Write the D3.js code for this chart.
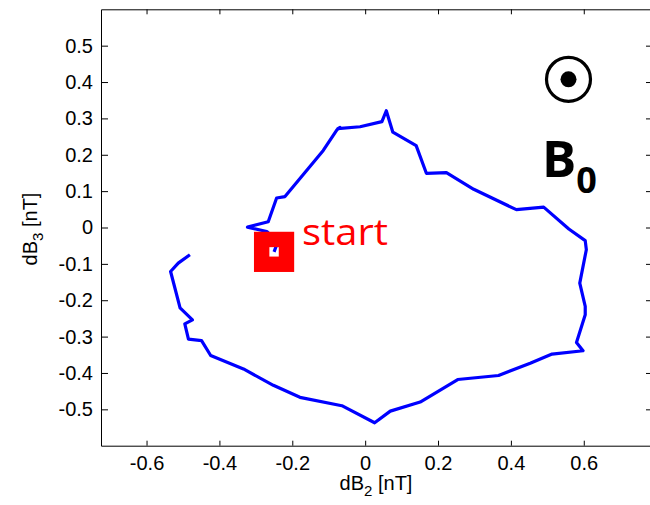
<!DOCTYPE html>
<html>
<head>
<meta charset="utf-8">
<script src="https://cdn.jsdelivr.net/npm/d3@7"></script>
<style>
    body { margin: 0; background: #fff; }
    svg { display: block; font-family: "Liberation Sans", Arial, sans-serif; }
</style>
</head>
<body>
<div id="chart"></div>
<script>
// hodogram values (nT)
const dB2 = [-0.250, -0.240, -0.270, -0.323, -0.266, -0.243, -0.220, -0.115, -0.078, -0.069, -0.075,
    -0.014, 0.046, 0.058, 0.076, 0.140, 0.168, 0.223, 0.298, 0.415, 0.490, 0.559, 0.604, 0.607,
    0.589, 0.604, 0.604, 0.580, 0.598, 0.513, 0.453, 0.366, 0.254, 0.151, 0.069, 0.026, -0.064,
    -0.179, -0.252, -0.334, -0.424, -0.449, -0.485, -0.495, -0.474, -0.508, -0.534, -0.513, -0.481];
const dB3 = [-0.067, -0.040, -0.011, 0.001, 0.016, 0.081, 0.085, 0.212, 0.268, 0.275, 0.272,
    0.277, 0.291, 0.321, 0.262, 0.225, 0.149, 0.151, 0.105, 0.049, 0.056, -0.004, -0.036, -0.061,
    -0.153, -0.217, -0.240, -0.316, -0.339, -0.348, -0.373, -0.407, -0.418, -0.480, -0.505, -0.537, -0.490,
    -0.467, -0.434, -0.389, -0.352, -0.311, -0.307, -0.265, -0.254, -0.221, -0.121, -0.098, -0.075];

const xTicks = [-0.6, -0.4, -0.2, 0, 0.2, 0.4, 0.6];
const yTicks = [-0.5, -0.4, -0.3, -0.2, -0.1, 0, 0.1, 0.2, 0.3, 0.4, 0.5];
const xDomain = [-0.725, 0.79];
const yDomain = [-0.6, 0.6];

const width = 650, height = 505;
const box = { left: 101, right: 653, top: 9.3, bottom: 445.7 };

const svg = d3.select("#chart").append("svg")
    .attr("width", width)
    .attr("height", height);

const x = d3.scaleLinear().domain(xDomain).range([box.left, box.right]);
const y = d3.scaleLinear().domain(yDomain).range([box.bottom, box.top]);

const fmt = d => d === 0 ? "0" : String(d);

// axes, ticks pointing inward like the original
svg.append("g")
    .attr("transform", `translate(0,${box.bottom})`)
    .call(d3.axisBottom(x).tickValues(xTicks).tickFormat(fmt).tickSizeInner(-5).tickSizeOuter(0).tickPadding(10));
svg.append("g")
    .attr("transform", `translate(0,${box.top})`)
    .call(d3.axisTop(x).tickValues(xTicks).tickFormat("").tickSizeInner(-5).tickSizeOuter(0));
svg.append("g")
    .attr("transform", `translate(${box.left},0)`)
    .call(d3.axisLeft(y).tickValues(yTicks).tickFormat(fmt).tickSizeInner(-7).tickSizeOuter(0).tickPadding(8));
svg.append("g")
    .attr("transform", `translate(${box.right},0)`)
    .call(d3.axisRight(y).tickValues(yTicks).tickFormat("").tickSizeInner(-7).tickSizeOuter(0));

svg.selectAll(".tick text")
    .attr("fill", "#000")
    .style("font-size", "20px");
svg.selectAll(".domain, .tick line").attr("stroke", "#000");

// axis labels
const xl = svg.append("text")
    .attr("x", 376)
    .attr("y", 490)
    .attr("text-anchor", "middle")
    .style("font-size", "20px");
xl.append("tspan").text("dB");
xl.append("tspan").attr("dy", 6).style("font-size", "15px").text("2");
xl.append("tspan").attr("dy", -6).text(" [nT]");

const yl = svg.append("text")
    .attr("transform", "translate(37,229) rotate(-90)")
    .attr("text-anchor", "middle")
    .style("font-size", "20px");
yl.append("tspan").text("dB");
yl.append("tspan").attr("dy", 6).style("font-size", "15px").text("3");
yl.append("tspan").attr("dy", -6).text(" [nT]");

// trajectory
const pts = dB2.map((v, i) => [v, dB3[i]]);
const line = d3.line().x(d => x(d[0])).y(d => y(d[1]));

svg.append("path")
    .datum(pts)
    .attr("d", line)
    .attr("fill", "none")
    .attr("stroke", "#0000ff")
    .attr("stroke-width", 3.2)
    .attr("stroke-linejoin", "round");

// start marker: thick hollow red square
const sx = x(dB2[0]), sy = y(dB3[0]);
svg.append("rect")
    .attr("x", sx - 12.4)
    .attr("y", sy - 12.4)
    .attr("width", 24.8)
    .attr("height", 24.8)
    .attr("fill", "none")
    .attr("stroke", "#ff0000")
    .attr("stroke-width", 15.4);

svg.append("text")
    .attr("x", 302)
    .attr("y", 245)
    .attr("fill", "#ff0000")
    .attr("textLength", 86)
    .attr("lengthAdjust", "spacingAndGlyphs")
    .style("font-family", "'Open Sans', sans-serif")
    .style("font-size", "36px")
    .text("start");

// B0 out-of-plane symbol
svg.append("circle")
    .attr("cx", 568.5).attr("cy", 79.3).attr("r", 22)
    .attr("fill", "none").attr("stroke", "#000").attr("stroke-width", 3.2);
svg.append("circle")
    .attr("cx", 568.5).attr("cy", 79.3).attr("r", 8)
    .attr("fill", "#000");

const b0 = svg.append("text")
    .attr("x", 542)
    .attr("y", 177)
    .style("font-family", "'Open Sans', sans-serif")
    .style("font-weight", "bold")
    .style("font-size", "51px");
b0.append("tspan").text("B");
b0.append("tspan").attr("dy", 16).style("font-size", "36px").text("0");
</script>
</body>
</html>
